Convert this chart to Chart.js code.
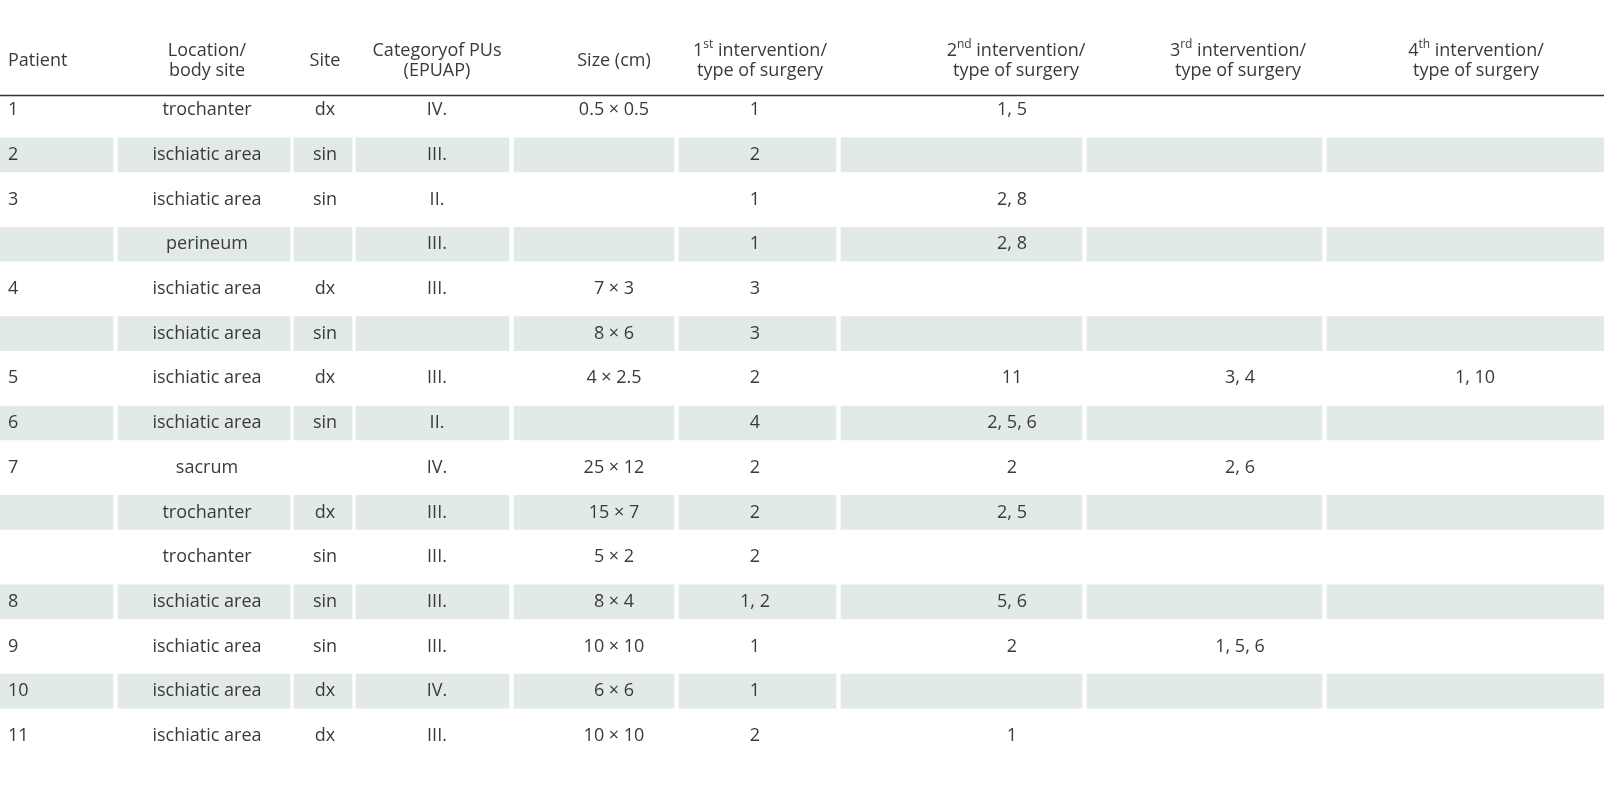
<!DOCTYPE html>
<html>
<head>
<meta charset="utf-8">
<script src="https://cdn.jsdelivr.net/npm/chart.js@4"></script>
<style>
  html, body { margin: 0; padding: 0; background: #fff; overflow: hidden; }
  #wrap { width: 1604px; height: 800px; }
</style>
</head>
<body>
<div id="wrap"><canvas id="tabela"></canvas></div>
<script>
// dados da tabela
const patients = ['1', '2', '3', '', '4', '', '5', '6', '7', '', '', '8', '9', '10', '11'];
const locations = ['trochanter', 'ischiatic area', 'ischiatic area', 'perineum', 'ischiatic area', 'ischiatic area',
    'ischiatic area', 'ischiatic area', 'sacrum', 'trochanter', 'trochanter', 'ischiatic area', 'ischiatic area',
    'ischiatic area', 'ischiatic area'];
const sites = ['dx', 'sin', 'sin', '', 'dx', 'sin', 'dx', 'sin', '', 'dx', 'sin', 'sin', 'sin', 'dx', 'dx'];
const categories = ['IV.', 'III.', 'II.', 'III.', 'III.', '', 'III.', 'II.', 'IV.', 'III.', 'III.', 'III.', 'III.', 'IV.', 'III.'];
const sizes = ['0.5 × 0.5', '', '', '', '7 × 3', '8 × 6', '4 × 2.5', '', '25 × 12', '15 × 7', '5 × 2', '8 × 4', '10 × 10', '6 × 6', '10 × 10'];
const int1 = ['1', '2', '1', '1', '3', '3', '2', '4', '2', '2', '2', '1, 2', '1', '1', '2'];
const int2 = ['1, 5', '', '2, 8', '2, 8', '', '', '11', '2, 5, 6', '2', '2, 5', '', '5, 6', '2', '', '1'];
const int3 = ['', '', '', '', '', '', '3, 4', '', '2, 6', '', '', '', '1, 5, 6', '', ''];
const int4 = ['', '', '', '', '', '', '1, 10', '', '', '', '', '', '', '', ''];
const headers = [['Patient'], ['Location/', 'body site'], ['Site'], ['Categoryof PUs', '(EPUAP)'], ['Size (cm)'],
    ['1|st| intervention/', 'type of surgery'], ['2|nd| intervention/', 'type of surgery'],
    ['3|rd| intervention/', 'type of surgery'], ['4|th| intervention/', 'type of surgery']];

const colunas = [patients, locations, sites, categories, sizes, int1, int2, int3, int4];
// limites das colunas (px) e posição do texto
const limites = [[0, 113], [118, 290], [294, 352], [356, 509], [514, 674], [679, 836], [841, 1082], [1087, 1322], [1327, 1604]];
const textoX = [8, 207, 325, 437, 614, 755, 1012, 1240, 1475];
const headerX = [8, 207, 325, 437, 614, 760, 1016, 1238, 1476];

const fonte = '"Open Sans", sans-serif';
const corTexto = '#3a3a3a';

const datasets = limites.map((lim) => ({
    data: patients.map((_, i) => ({ x: lim, y: i })).filter((d) => d.y % 2 === 1),
    backgroundColor: '#e2eae9',
    borderWidth: 0,
    barThickness: 34,
    grouped: false
}));

const textoPlugin = {
    id: 'texto',
    afterDatasetsDraw(chart) {
        const { ctx, scales: { x, y } } = chart;
        ctx.save();
        ctx.fillStyle = corTexto;
        ctx.textBaseline = 'middle';
        ctx.font = '18px ' + fonte;
        colunas.forEach((col, c) => {
            ctx.textAlign = c === 0 ? 'left' : 'center';
            col.forEach((v, i) => {
                if (v) ctx.fillText(v, x.getPixelForValue(textoX[c]), y.getPixelForValue(i));
            });
        });
        // cabeçalho
        headers.forEach((linhas, c) => {
            const px = x.getPixelForValue(headerX[c]);
            const ys = linhas.length === 1 ? [-1.1] : [-1.33, -0.88];
            linhas.forEach((t, k) => {
                const py = y.getPixelForValue(ys[k]);
                const partes = t.split('|');
                if (partes.length === 1) {
                    ctx.textAlign = c === 0 ? 'left' : 'center';
                    ctx.font = '18px ' + fonte;
                    ctx.fillText(t, px, py);
                } else {
                    ctx.font = '18px ' + fonte;
                    const w0 = ctx.measureText(partes[0]).width;
                    const w2 = ctx.measureText(partes[2]).width;
                    ctx.font = '12px ' + fonte;
                    const w1 = ctx.measureText(partes[1]).width;
                    let sx = px - (w0 + w1 + w2) / 2;
                    ctx.textAlign = 'left';
                    ctx.font = '18px ' + fonte;
                    ctx.fillText(partes[0], sx, py);
                    ctx.font = '12px ' + fonte;
                    ctx.fillText(partes[1], sx + w0, py - 6);
                    ctx.font = '18px ' + fonte;
                    ctx.fillText(partes[2], sx + w0 + w1, py);
                }
            });
        });
        const ly = y.getPixelForValue(-0.33);
        ctx.strokeStyle = '#333';
        ctx.lineWidth = 1.5;
        ctx.beginPath();
        ctx.moveTo(x.left, ly);
        ctx.lineTo(x.right, ly);
        ctx.stroke();
        ctx.restore();
    }
};

new Chart(document.getElementById('tabela'), {
    type: 'bar',
    data: { datasets },
    options: {
        indexAxis: 'y',
        responsive: true,
        maintainAspectRatio: false,
        animation: false,
        layout: { padding: 0 },
        plugins: { legend: { display: false }, tooltip: { enabled: false } },
        scales: {
            x: { type: 'linear', min: 0, max: 1604, display: false },
            y: { type: 'linear', min: -1.571, max: 14.54, reverse: true, display: false }
        }
    },
    plugins: [textoPlugin]
});
</script>
</body>
</html>
